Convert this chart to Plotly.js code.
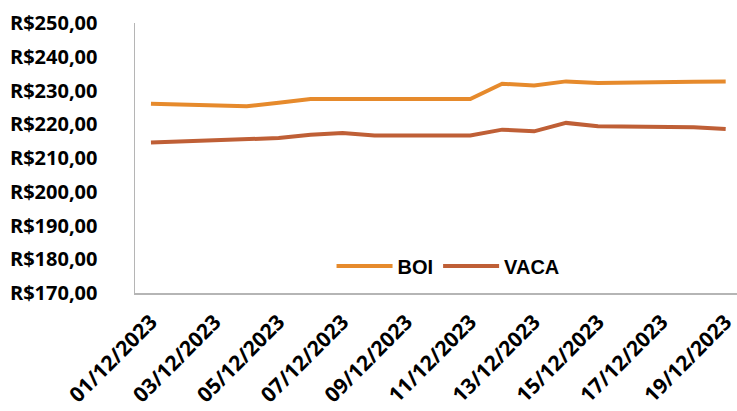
<!DOCTYPE html>
<html>
<head>
<meta charset="utf-8">
<script src="https://cdn.plot.ly/plotly-3.0.1.min.js"></script>
<style>
html,body{margin:0;padding:0;background:#fff;}
#chart{width:737px;height:411px;}
</style>
</head>
<body>
<div id="chart"></div>
<script>
const dates = ['2023-12-01','2023-12-04','2023-12-05','2023-12-06','2023-12-07','2023-12-08','2023-12-11','2023-12-12','2023-12-13','2023-12-14','2023-12-15','2023-12-18','2023-12-19'];
const boi  = [226.1, 225.3, 226.4, 227.5, 227.5, 227.5, 227.5, 232.0, 231.5, 232.7, 232.2, 232.6, 232.7];
const vaca = [214.6, 215.4, 215.9, 216.9, 217.4, 216.7, 216.7, 218.4, 217.9, 220.4, 219.4, 219.1, 218.6];
const yTicks = [170,180,190,200,210,220,230,240,250];
const yTickText = yTicks.map(v => 'R$' + v.toFixed(2).replace('.', ','));

const font = {family: 'Open Sans, sans-serif', size: 20, color: '#000', weight: 'bold'};

const traces = [
  {x: dates, y: boi, name: 'BOI', type: 'scatter', mode: 'lines',
   line: {color: '#E68A2C', width: 4}},
  {x: dates, y: vaca, name: 'VACA', type: 'scatter', mode: 'lines',
   line: {color: '#BF5F36', width: 4}}
];

const layout = {
  width: 737, height: 411,
  margin: {l: 135, r: 0, t: 23, b: 118, pad: 0},
  paper_bgcolor: '#fff', plot_bgcolor: '#fff',
  showlegend: true,
  legend: {orientation: 'h', x: 0.52, y: 0.1, xanchor: 'center', yanchor: 'middle',
           itemwidth: 56,
           font: {family: 'Liberation Sans, Arial, sans-serif', size: 20, color: '#000', weight: 'bold'},
           bgcolor: 'rgba(0,0,0,0)'},
  xaxis: {
    type: 'date',
    range: ['2023-11-30 12:00', '2023-12-19 08:30'],
    tick0: '2023-12-01', dtick: 2 * 86400000,
    tickformat: '%d/%m/%Y', tickangle: -45,
    showgrid: false, zeroline: false,
    showline: true, linecolor: '#b5b5b5', linewidth: 1.5,
    ticks: '', ticklabelstandoff: 7, ticklabeloverflow: 'allow',
    tickfont: Object.assign({}, font, {size: 21})
  },
  yaxis: {
    range: [170, 250],
    tickvals: yTicks, ticktext: yTickText,
    showgrid: false, zeroline: false,
    showline: true, linecolor: '#b5b5b5', linewidth: 1.5,
    ticks: '', ticklabelstandoff: 32,
    tickfont: font
  }
};

Plotly.newPlot('chart', traces, layout, {displayModeBar: false, staticPlot: true});
</script>
</body>
</html>
